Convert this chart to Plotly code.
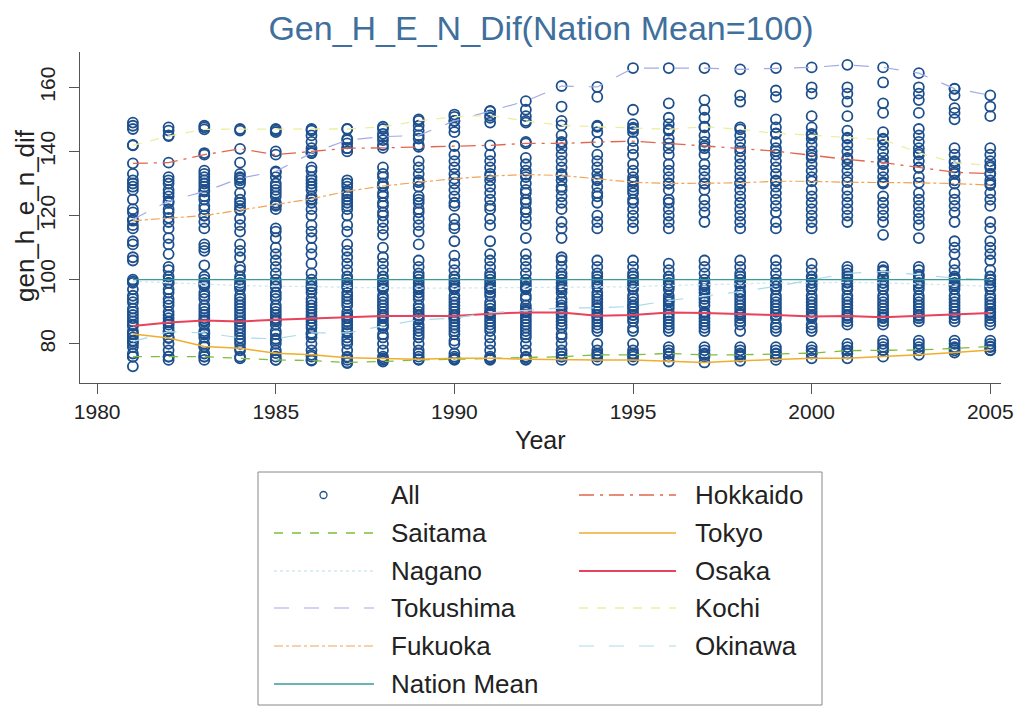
import plotly.graph_objects as go

years = list(range(1981, 2006))

hokkaido = [136.3, 136.5, 139.0, 140.8, 139.0, 140.1, 141.0, 141.1, 141.4, 141.7, 141.9, 142.5, 142.5,
            142.9, 143.2, 142.5, 141.7, 141.1, 140.1, 138.8, 137.5, 136.5, 134.9, 133.5, 133.1]
saitama = [76.0, 76.0, 76.0, 75.5, 75.0, 74.8, 74.2, 74.5, 75.0, 75.2, 75.5, 75.8, 76.0,
           76.6, 76.6, 77.0, 76.6, 76.6, 76.9, 77.1, 77.9, 78.1, 78.1, 78.6, 79.2]
tokyo = [83.1, 81.8, 79.2, 78.6, 77.1, 76.6, 75.7, 75.5, 75.2, 75.5, 75.5, 75.2, 75.0,
         75.0, 75.0, 74.5, 74.2, 74.7, 75.0, 75.5, 75.5, 76.0, 76.6, 77.3, 78.1]
nagano = [99.5, 99.0, 98.5, 98.2, 97.9, 97.9, 97.6, 97.4, 97.4, 97.4, 97.5, 97.5, 97.6,
          97.7, 97.8, 98.2, 98.5, 98.8, 99.0, 99.0, 99.2, 99.0, 98.8, 98.4, 97.9]
osaka = [85.6, 86.7, 87.3, 87.0, 87.5, 88.0, 88.3, 88.7, 88.7, 88.7, 89.4, 89.8, 89.8,
         88.8, 89.0, 89.8, 89.6, 89.4, 89.0, 88.5, 88.7, 88.3, 88.7, 89.0, 89.6]
tokushima = [118.8, 124.5, 127.5, 131.6, 133.8, 139.5, 143.5, 144.6, 145.0, 149.5, 152.6, 155.7, 160.4,
             160.1, 166.0, 166.0, 166.0, 165.6, 166.0, 166.2, 167.0, 166.2, 164.4, 159.6, 157.5]
kochi = [141.9, 144.8, 146.9, 147.0, 147.0, 147.0, 147.0, 147.7, 149.5, 150.8, 151.2, 149.5, 148.1,
         147.7, 147.4, 146.9, 147.7, 146.9, 145.6, 145.1, 144.3, 143.7, 139.6, 136.5, 135.6]
fukuoka = [118.4, 119.3, 120.0, 121.7, 123.4, 125.2, 127.6, 129.2, 130.4, 131.5, 132.3, 132.8, 132.5,
           131.5, 130.4, 130.0, 130.0, 130.2, 130.7, 130.7, 130.4, 130.4, 130.2, 130.0, 129.5]
okinawa = [80.7, 83.8, 83.4, 81.9, 81.6, 83.4, 83.4, 85.6, 87.5, 88.0, 89.7, 90.4, 91.2,
           91.2, 91.7, 93.5, 94.8, 96.3, 97.9, 100.0, 102.0, 102.6, 101.6, 100.5, 100.0]
nation_mean = [100] * len(years)

# remaining prefectures, one row per year
others = [
    [149, 148, 147, 142, 133, 131, 130, 129, 128, 125, 122, 121, 117, 116, 112, 111, 107, 106,
     100, 99, 97, 95, 94, 93, 91, 90, 89, 88, 87, 86, 84, 83, 82, 81, 80, 79, 77, 76, 73],
    [147.5, 146.5, 145, 132, 131, 130, 128, 127, 126, 124, 122, 121, 118, 116, 113, 111, 108,
     104, 103, 101, 100, 99, 97, 96, 94, 93, 92, 90, 89, 88, 87, 86, 85, 84, 82, 80, 78, 76, 75],
    [148, 147.5, 139.5, 134, 133, 132, 131, 130, 129, 128, 126, 125, 123, 122, 120, 118, 116, 111, 110,
     109, 104.5, 101, 100, 99, 98, 96, 95, 94, 92, 91, 90, 89, 88, 87, 86, 84, 83, 82, 80, 79, 77, 76, 75],
    [146.5, 136.5, 133, 132, 131, 130, 127, 125, 124, 123, 122, 119, 117, 115, 111, 109, 107, 104, 103,
     101, 100, 99, 98, 97, 95, 94, 93, 92, 91, 90, 89, 88, 87, 86, 85, 84, 83, 81, 80, 78, 76],
    [146.5, 146, 140, 133.5, 132, 130, 129, 128, 127, 126, 124, 123, 122, 116, 115, 113, 110, 108, 106,
     104, 102, 100, 99, 98, 96, 95, 94, 92, 91, 90, 89, 88, 87, 86, 84, 83, 81, 80, 78, 76, 75],
    [146.5, 145, 143, 141, 139.5, 135, 134, 132, 131, 130, 129, 128, 126, 125, 124, 122, 120, 117, 115,
     113, 110, 108, 105, 102, 100, 99, 98, 97, 96, 94, 93, 92, 91, 90, 89, 88, 87, 86, 85, 83, 82, 80,
     78, 76, 75],
    [147, 144, 142.5, 141, 140, 131, 130, 129, 127, 126, 125, 124, 123, 122, 120, 117, 115, 111, 109,
     107, 105, 103, 101, 100, 99, 98, 96, 95, 94, 93, 92, 90, 89, 88, 87, 86, 85, 84, 82, 81, 80, 78,
     76, 75, 74],
    [147, 145.5, 143.5, 142, 135, 133, 132, 130, 129, 127, 126, 124, 123, 121, 120, 118, 116, 114, 110,
     107, 105, 103, 101, 100, 99, 98, 97, 95, 94, 93, 92, 91, 90, 89, 88, 87, 86, 85, 83, 82, 80, 78,
     76, 75],
    [150, 148, 146.5, 144, 142, 137, 135, 133, 131, 129, 126, 125, 124, 122, 121, 119, 117, 115, 111,
     106, 104, 102, 101, 100, 99, 98, 97, 96, 95, 94, 92, 91, 90, 89, 88, 86, 85, 84, 83, 82, 80, 78,
     77, 76],
    [151.5, 149.5, 147.5, 146, 139, 137, 135, 133, 130, 128, 126, 124, 123, 119, 117, 116, 112, 107.5,
     105, 103, 101, 100, 99, 98, 97, 95, 94, 93, 92, 91, 90, 89, 88, 87, 86, 85, 84, 83, 81, 80, 77,
     76, 75],
    [152.5, 150.5, 149, 139, 137, 135, 133, 131, 129, 127, 125, 123, 122, 119, 117, 112, 108, 106, 104,
     102, 101, 100, 99, 98, 97, 96, 95, 93, 92, 91, 90, 89, 88, 87, 86, 85, 84, 82, 80, 78, 76, 75],
    [153, 151, 149, 143, 138, 136, 134, 132, 130, 128, 127, 125, 124, 122, 121, 119, 117, 113, 108, 106,
     104, 102, 100, 99, 98, 97, 95, 94, 92, 91, 90, 89, 88, 87, 86, 85, 84, 83, 82, 80, 78, 76, 75],
    [154, 149.5, 145, 143, 141, 139, 137, 135, 133, 131, 129, 128, 126, 124, 122, 118, 116, 113, 107,
     106, 104, 102, 101, 100, 99, 98, 97, 96, 94, 93, 92, 91, 90, 89, 88, 87, 86, 85, 83, 82, 80, 78,
     77, 76],
    [157, 148, 146, 139, 137, 135, 133, 131, 129, 127, 126, 124, 120, 118, 116, 106, 104, 102, 101, 100,
     99, 98, 96, 95, 94, 93, 92, 91, 90, 89, 88, 87, 86, 85, 84, 80, 78, 77, 76],
    [153, 148.5, 147, 146, 141, 139, 136, 134, 132, 131, 129, 128, 127, 125, 124, 122, 120, 118, 116,
     106, 104, 102, 101, 100, 99, 98, 97, 95, 94, 93, 92, 91, 90, 89, 88, 87, 85, 84, 80, 78, 77, 76],
    [155, 150.5, 148.5, 146.5, 144, 141, 139, 136, 134, 132, 130, 128, 125, 124, 122, 120, 118, 116, 105,
     103, 101, 100, 99, 98, 97, 95, 94, 93, 92, 91, 89, 88, 87, 86, 85, 84, 79, 78, 77, 76],
    [156, 153, 150.5, 147.5, 145, 143, 141, 139, 136, 134, 132, 130, 128, 125, 123, 121, 118, 106, 104,
     102, 100, 99, 98, 97, 96, 94, 93, 92, 90, 89, 88, 87, 86, 85, 84, 79, 78, 77, 76],
    [157.5, 155.5, 147.5, 145, 143, 140, 138, 136, 134, 132, 130, 128, 126, 124, 122, 120, 118, 116, 106,
     104, 102, 101, 100, 99, 98, 96, 95, 94, 93, 92, 91, 90, 89, 88, 87, 86, 84, 79, 78, 77, 76],
    [159, 157, 150, 147.5, 145.5, 143, 141, 139, 137, 135, 133, 131, 129, 127, 125, 123, 121, 118, 116,
     106, 104, 102, 100, 99, 98, 97, 95, 94, 93, 92, 91, 90, 89, 88, 86, 85, 84, 79, 78, 77, 76],
    [160, 158, 151, 147.5, 145.5, 144, 142, 140, 138, 136, 134, 132, 128, 126, 124, 122, 120, 118, 116,
     105, 103, 101, 100, 99, 98, 97, 95, 94, 93, 92, 91, 90, 89, 88, 86, 85, 84, 79, 78, 77],
    [160, 158, 155.5, 151, 146.5, 144, 142, 140, 138, 136, 134, 132, 128, 126, 124, 122, 120, 118, 104,
     103, 101, 100, 99, 98, 97, 95, 94, 93, 92, 91, 90, 89, 88, 87, 86, 80, 79, 78, 77],
    [161.5, 155, 152, 146, 144, 142, 140, 138, 136, 134, 132, 130, 126, 124, 122, 120, 118, 114, 104, 103,
     101, 100, 99, 98, 97, 95, 94, 93, 92, 91, 90, 89, 88, 87, 86, 81, 80, 79, 78],
    [160, 158, 156, 152, 147, 145, 143, 141, 139, 137, 135, 132, 127, 125, 123, 121, 119, 117, 113, 104,
     103, 101, 100, 99, 98, 97, 95, 94, 93, 92, 91, 90, 89, 88, 87, 81, 80, 79, 78],
    [159.5, 157.5, 153.5, 152, 150, 141, 139, 137, 135, 133, 131, 127, 125, 123, 121, 118, 112, 110, 108,
     105, 103, 101, 100, 99, 98, 97, 95, 94, 93, 92, 91, 90, 89, 88, 87, 81, 80, 79, 78],
    [154, 151, 141, 139, 137, 135, 133, 131, 130, 127, 125, 123, 118, 116, 112, 110, 108, 106, 103, 101,
     100, 99, 98, 97, 95, 94, 93, 92, 91, 90, 89, 88, 87, 86, 81, 80, 79, 78],
]

named = [hokkaido, saitama, tokyo, nagano, osaka, tokushima, kochi, fukuoka, okinawa]
all_x, all_y = [], []
for i, yr in enumerate(years):
    vals = [s[i] for s in named] + others[i]
    all_x += [yr] * len(vals)
    all_y += vals

marker_color = "#1d4f8c"
fig = go.Figure()
fig.add_trace(go.Scatter(
    x=all_x, y=all_y, mode="markers", name="All",
    marker=dict(symbol="circle-open", size=10, color=marker_color, line=dict(width=1.8)),
))

# name, values, colour, dash, width, legend column, legend row
lines = [
    ("Hokkaido", hokkaido, "#e2664e", "longdashdot", 1.3, 1, 0),
    ("Saitama", saitama, "#7fbd3a", "dash", 1.3, 0, 1),
    ("Tokyo", tokyo, "#f1ad2c", "solid", 1.5, 1, 1),
    ("Nagano", nagano, "#cfe9ee", "dot", 1.3, 0, 2),
    ("Osaka", osaka, "#e8435c", "solid", 2, 1, 2),
    ("Tokushima", tokushima, "#a2aae6", "longdash", 1.2, 0, 3),
    ("Kochi", kochi, "#eeeea0", "dash", 1.3, 1, 3),
    ("Fukuoka", fukuoka, "#f0a458", "dashdot", 1.2, 0, 4),
    ("Okinawa", okinawa, "#a9dbe8", "longdash", 1.2, 1, 4),
    ("Nation Mean", nation_mean, "#3b9b98", "solid", 1.3, 0, 5),
]
for name, vals, color, dash, width, col, row in lines:
    fig.add_trace(go.Scatter(
        x=years, y=vals, mode="lines", name=name,
        line=dict(color=color, dash=dash, width=width),
    ))

# the page body adds an 8px margin, so the figure is 8px smaller than the window
OFF = 8
W, H = 1022 - OFF, 706 - OFF
L, R, T, B = 80 - OFF, 21, 52 - OFF, 323
pw, ph = W - L - R, H - T - B


def px(x):
    # window pixel -> paper x
    return (x - OFF - L) / pw


def py(y):
    # window pixel -> paper y
    return (H - B - (y - OFF)) / ph


font = "Liberation Sans, Arial, sans-serif"
shapes = [dict(type="rect", xref="paper", yref="paper", x0=px(258), x1=px(822), y0=py(472), y1=py(705),
               line=dict(color="#888888", width=1), fillcolor="white", layer="below")]
annotations = [
    dict(text="gen_h_e_n_dif", x=px(25), y=py(216), xref="paper", yref="paper", textangle=-90,
         xanchor="center", yanchor="middle", showarrow=False, font=dict(size=26)),
    dict(text="Year", x=px(540), y=py(440), xref="paper", yref="paper",
         xanchor="center", yanchor="middle", showarrow=False, font=dict(size=25)),
]
row_y = [495, 533, 571, 608, 646, 684]
sym_x = [(274, 374), (579, 676)]
text_x = [389, 693]

shapes.append(dict(type="circle", xref="paper", yref="paper", x0=px(320), x1=px(327),
                   y0=py(498.5), y1=py(491.5), line=dict(color=marker_color, width=1.3)))
annotations.append(dict(text="All", x=px(text_x[0]), y=py(row_y[0]), xref="paper", yref="paper",
                        xanchor="left", yanchor="middle", showarrow=False, font=dict(size=26)))
for name, vals, color, dash, width, col, row in lines:
    shapes.append(dict(type="line", xref="paper", yref="paper", x0=px(sym_x[col][0]), x1=px(sym_x[col][1]),
                       y0=py(row_y[row]), y1=py(row_y[row]), line=dict(color=color, dash=dash, width=width)))
    annotations.append(dict(text=name, x=px(text_x[col]), y=py(row_y[row]), xref="paper", yref="paper",
                            xanchor="left", yanchor="middle", showarrow=False, font=dict(size=26)))

fig.update_layout(
    width=W, height=H,
    paper_bgcolor="white", plot_bgcolor="white",
    margin=dict(l=L, r=R, t=T, b=B, autoexpand=False),
    font=dict(family=font, color="#222222"),
    title=dict(text="Gen_H_E_N_Dif(Nation Mean=100)", x=(541 - OFF) / W, xanchor="center",
               y=1 - (28 - OFF) / H, yanchor="middle", font=dict(size=34, color="#3f6f9c")),
    showlegend=False,
    shapes=shapes,
    annotations=annotations,
)
fig.update_xaxes(
    range=[1979.52, 2005.3], tickvals=[1980, 1985, 1990, 1995, 2000, 2005],
    showline=True, linecolor="#555555", linewidth=1, mirror=False, automargin=False,
    ticks="outside", ticklen=10, tickcolor="#555555", showgrid=False, zeroline=False,
    tickfont=dict(size=21),
)
fig.update_yaxes(
    range=[67.8, 171], tickvals=[80, 100, 120, 140, 160], tickangle=-90,
    showline=True, linecolor="#555555", linewidth=1, mirror=False, automargin=False,
    ticks="outside", ticklen=10, tickcolor="#555555", showgrid=False, zeroline=False,
    ticklabelstandoff=6, tickfont=dict(size=21),
)

fig.write_html("out.html")
